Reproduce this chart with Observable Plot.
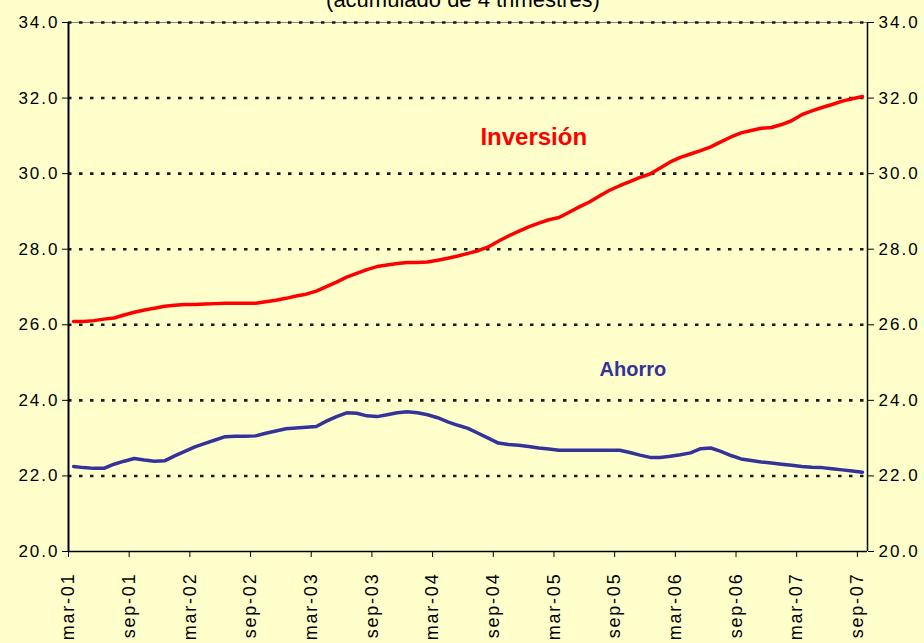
<!DOCTYPE html>
<html><head><meta charset="utf-8">
<script src="https://cdn.jsdelivr.net/npm/d3@7"></script>
<script src="https://cdn.jsdelivr.net/npm/@observablehq/plot@0.6"></script>
<style>
body{margin:0;background:#FFFFCC;}
g[aria-label="y-axis tick label"] text{letter-spacing:2px;}
g[aria-label="x-axis tick label"] text{letter-spacing:1.8px;}
g[aria-label="inv-label"] text{letter-spacing:1.5px;}
g[aria-label="aho-label"] text{letter-spacing:2.3px;}
g[aria-label="title"] text{letter-spacing:2px;}
</style>
</head><body><div id="chart"></div>
<script>
// Quarterly-labelled monthly category axis: mar-01 .. sep-07 (79 months)
const tickLabels = ["mar-01","sep-01","mar-02","sep-02","mar-03","sep-03","mar-04","sep-04","mar-05","sep-05","mar-06","sep-06","mar-07","sep-07"];
const inversion = [
 26.09,26.09,26.11,26.15,26.18,26.26,26.33,26.39,26.44,26.49,
 26.52,26.54,26.54,26.55,26.56,26.57,26.57,26.57,26.57,26.61,
 26.65,26.70,26.76,26.81,26.89,27.01,27.13,27.26,27.36,27.46,
 27.54,27.58,27.62,27.65,27.65,27.66,27.71,27.76,27.82,27.89,
 27.96,28.06,28.21,28.35,28.47,28.59,28.69,28.78,28.84,28.98,
 29.12,29.25,29.41,29.56,29.68,29.79,29.90,29.99,30.15,30.31,
 30.43,30.52,30.61,30.71,30.84,30.97,31.08,31.14,31.20,31.22,
 31.30,31.40,31.56,31.66,31.75,31.83,31.92,31.98,32.04];
const ahorro = [
 22.25,22.22,22.20,22.20,22.31,22.39,22.46,22.42,22.39,22.40,
 22.53,22.65,22.77,22.86,22.95,23.04,23.05,23.05,23.06,23.13,
 23.19,23.25,23.27,23.29,23.31,23.45,23.57,23.67,23.66,23.59,
 23.57,23.62,23.67,23.70,23.67,23.62,23.54,23.43,23.34,23.26,
 23.13,23.00,22.87,22.83,22.81,22.78,22.74,22.71,22.68,22.68,
 22.68,22.68,22.68,22.68,22.68,22.62,22.55,22.49,22.49,22.52,
 22.56,22.61,22.72,22.74,22.65,22.54,22.45,22.41,22.37,22.34,
 22.31,22.28,22.25,22.23,22.22,22.19,22.16,22.13,22.10];
const yTicks = [20,22,24,26,28,30,32,34];
const invLabel = [{name:"Inversión", x:45.5, y:30.96}];
const ahoLabel = [{name:"Ahorro", x:55.3, y:24.82}];
const title = ["(acumulado de 4 trimestres)"];

const n = inversion.length;
const tickPos = tickLabels.map((_, k) => k * 6 - 0.5);

const chart = Plot.plot({
  width: 924, height: 643,
  marginLeft: 68, marginRight: 57, marginTop: 22, marginBottom: 92,
  style: {background: "#FFFFCC", fontFamily: "'Liberation Sans', Arial, sans-serif", fontSize: "17px", color: "#000", overflow: "visible"},
  x: {domain: [-0.5, n - 0.5], axis: null},
  y: {domain: [20, 34], axis: null},
  marks: [
    Plot.ruleY([34], {stroke: "#8a8a8a", strokeWidth: 1.2}),
    Plot.ruleY(yTicks.filter(d => d > 20), {stroke: "#1a1a1a", strokeWidth: 2.6, strokeDasharray: "3.5,7.5"}),
    Plot.ruleX([-0.5], {stroke: "#000", strokeWidth: 2}),
    Plot.ruleX([n - 0.5], {stroke: "#000", strokeWidth: 1.5}),
    Plot.ruleY([20], {stroke: "#000", strokeWidth: 1.5}),
    Plot.axisY(yTicks, {anchor: "left", tickSize: 6, tickPadding: 3, tickFormat: d => d.toFixed(1), label: null, fontSize: 17}),
    Plot.axisY(yTicks, {anchor: "right", tickSize: 6, tickPadding: 5, tickFormat: d => d.toFixed(1), label: null, fontSize: 17}),
    Plot.axisX(tickPos, {anchor: "bottom", tickSize: 6, tickPadding: 15, tickRotate: -90, tickFormat: d => tickLabels[Math.round((d + 0.5) / 6)], label: null, fontSize: 18}),
    Plot.line(ahorro, {x: (d, i) => i, y: d => d, stroke: "#333399", strokeWidth: 3.5, strokeLinejoin: "round", strokeLinecap: "round"}),
    Plot.line(inversion, {x: (d, i) => i, y: d => d, stroke: "#FF0000", strokeWidth: 3.5, strokeLinejoin: "round", strokeLinecap: "round"}),
    Plot.text(invLabel, {x: "x", y: "y", text: "name", fill: "#FF0000", fontSize: 24, fontWeight: "bold", textAnchor: "middle", lineAnchor: "middle", ariaLabel: "inv-label"}),
    Plot.text(ahoLabel, {x: "x", y: "y", text: "name", fill: "#333399", fontSize: 20, fontWeight: "bold", textAnchor: "middle", lineAnchor: "middle", ariaLabel: "aho-label"}),
    Plot.text(title, {frameAnchor: "top", dy: -16, dx: -5, lineAnchor: "bottom", fontSize: 22, fill: "#000", ariaLabel: "title"})
  ]
});
document.getElementById("chart").appendChild(chart);
</script>
</body></html>
